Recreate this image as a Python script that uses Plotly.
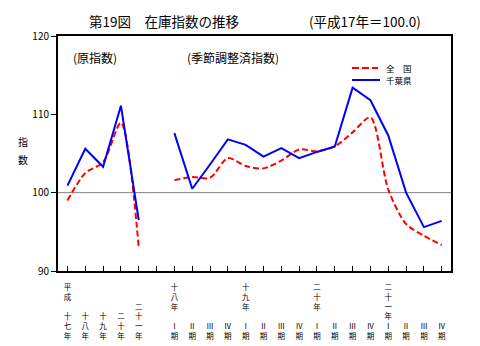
import plotly.graph_objects as go

# ---- data ----
annual_labels = ["平成　十七年", "十八年", "十九年", "二十年", "二十一年"]
quarter_labels = ["十八年　Ⅰ期", "Ⅱ期", "Ⅲ期", "Ⅳ期",
                  "十九年　Ⅰ期", "Ⅱ期", "Ⅲ期", "Ⅳ期",
                  "二十年　Ⅰ期", "Ⅱ期", "Ⅲ期", "Ⅳ期",
                  "二十一年Ⅰ期", "Ⅱ期", "Ⅲ期", "Ⅳ期"]

annual_zenkoku = [99.0, 102.5, 103.9, 108.9, 93.0]
annual_chiba = [100.9, 105.6, 103.3, 111.1, 96.5]

quarter_zenkoku = [101.6, 102.0, 101.9, 104.4, 103.4, 103.1, 104.1, 105.5,
                   105.3, 105.9, 107.7, 109.6, 100.4, 96.0, 94.5, 93.3]
quarter_chiba = [107.6, 100.5, 103.6, 106.8, 106.1, 104.6, 105.7, 104.4,
                 105.2, 105.9, 113.4, 111.8, 107.3, 100.0, 95.6, 96.4]

y_ticks = [90, 100, 110, 120]
reference_value = 100

# ---- positions (annual block, one blank slot, quarterly block) ----
x_annual = list(range(len(annual_labels)))
x_quarter = [len(annual_labels) + 1 + i for i in range(len(quarter_labels))]
all_x = x_annual + [len(annual_labels)] + x_quarter
all_labels = annual_labels + [""] + quarter_labels

N_LINES = 6
BLANK = "\u3000"


def vert(s):
    chars = list(s)
    chars = [BLANK] * (N_LINES - len(chars)) + chars
    return "<br>".join(chars)


tick_text = [vert(s) for s in all_labels]

FONT = "Noto Sans CJK JP, Noto Sans CJK SC, sans-serif"
RED = "#FF0000"
BLUE = "#0000FF"

fig = go.Figure()
for xs, ys in [(x_annual, annual_zenkoku), (x_quarter, quarter_zenkoku)]:
    fig.add_trace(go.Scatter(x=xs, y=ys, mode="lines", showlegend=False,
                             line=dict(color=RED, width=2, dash="6px,3px",
                                       shape="spline", smoothing=0.8)))
for xs, ys in [(x_annual, annual_chiba), (x_quarter, quarter_chiba)]:
    fig.add_trace(go.Scatter(x=xs, y=ys, mode="lines", showlegend=False,
                             line=dict(color=BLUE, width=2)))

# plot area in pixels
L, R, T, B = 58, 451, 36, 271
W, H = R - L, B - T


def px(v):
    return (v - L) / W


def py(v):
    return (B - v) / H


fig.update_layout(
    width=480, height=346,
    margin=dict(l=L, r=480 - R, t=T, b=346 - B, autoexpand=False),
    paper_bgcolor="white", plot_bgcolor="white",
    font=dict(family=FONT, color="black"),
    xaxis=dict(range=[-0.53, len(all_x) - 1 + 0.52], tickvals=all_x,
               ticktext=tick_text, tickangle=0, ticks="inside", ticklen=5,
               tickcolor="black", tickwidth=1, showgrid=False, zeroline=False,
               showline=True, linecolor="black", linewidth=2, mirror=True,
               ticklabelstandoff=8, automargin=False,
               tickfont=dict(size=7.5, family=FONT)),
    yaxis=dict(range=[90, 120], tickvals=y_ticks, ticks="outside", ticklen=5,
               tickcolor="black", tickwidth=1, showgrid=False, zeroline=False,
               showline=True, linecolor="black", linewidth=2, mirror=True,
               automargin=False,
               tickfont=dict(size=10, family=FONT)),
    shapes=[
        dict(type="line", xref="paper", yref="y", x0=0, x1=1,
             y0=reference_value, y1=reference_value,
             line=dict(color="#808080", width=1), layer="below"),
        dict(type="line", xref="paper", yref="paper", x0=px(352), x1=px(378),
             y0=py(68), y1=py(68), line=dict(color=RED, width=2, dash="7px,3px")),
        dict(type="line", xref="paper", yref="paper", x0=px(352), x1=px(380),
             y0=py(80), y1=py(80), line=dict(color=BLUE, width=2)),
    ],
)

annotations = [
    dict(text="第19図　在庫指数の推移", x=px(88), y=py(21), size=13.5),
    dict(text="(平成17年＝100.0)", x=px(308), y=py(21), size=13.5),
    dict(text="(原指数)", x=px(72), y=py(57), size=12),
    dict(text="(季節調整済指数)", x=px(186), y=py(57), size=12),
    dict(text="全　国", x=px(385), y=py(68), size=8.5),
    dict(text="千葉県", x=px(385), y=py(80), size=8.5),
    dict(text="指", x=px(17), y=py(141), size=10),
    dict(text="数", x=px(17), y=py(159), size=10),
]
for a in annotations:
    fig.add_annotation(text=a["text"], x=a["x"], y=a["y"], xref="paper",
                       yref="paper", xanchor="left", yanchor="middle",
                       showarrow=False, borderpad=0,
                       font=dict(size=a["size"], family=FONT, color="black"))

fig.write_html("out.html")
